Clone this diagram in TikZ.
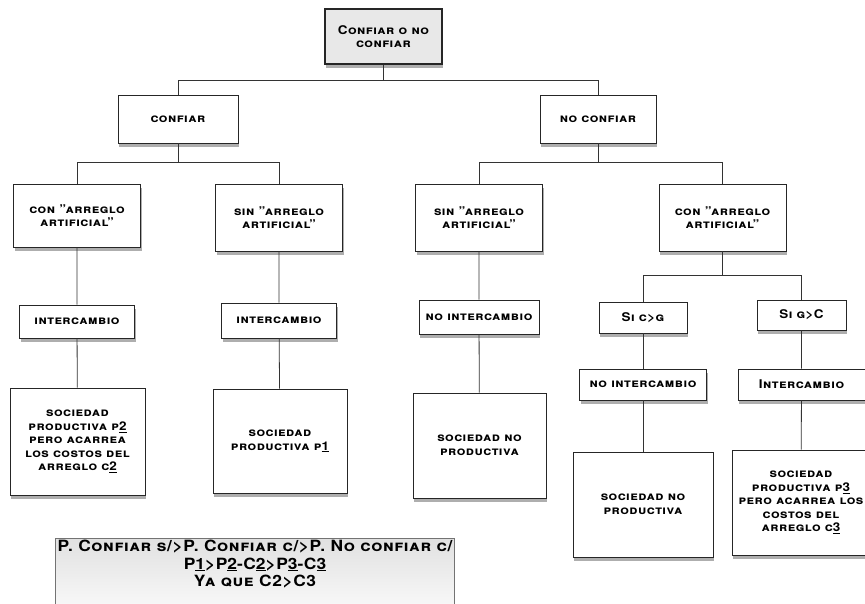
\documentclass[tikz,border=0pt]{standalone}
\usepackage{fontspec}
\setmainfont{TeX Gyre Heros}[FakeStretch=1.12,LetterSpace=4]
\usetikzlibrary{shadows}

\tikzset{
	caja/.style={draw=black!85, line width=0.9pt, fill=white, align=center,
		inner sep=2pt, font=\bfseries\scshape\fontsize{12}{13.5}\selectfont,
		drop shadow={shadow xshift=1pt, shadow yshift=-4pt, opacity=0.45, fill=black!70}},
	enlace/.style={draw=black!80, line width=0.8pt},
}

\begin{document}
\begin{tikzpicture}[x=1pt, y=-1pt]
		%%%%% START %%%%%
		\useasboundingbox (0,0) rectangle (865,603);
		
		% raiz
		\node[caja, fill=black!9, line width=1.8pt, minimum width=117pt, minimum height=55pt] (raiz) at (383.5,36.5) {Confiar o no\\confiar};
		
		\node[caja, minimum width=120pt, minimum height=48pt] (confiar) at (178,119) {confiar};
		\node[caja, minimum width=116pt, minimum height=48pt] (noconfiar) at (598,119) {no confiar};
		
		% segundo nivel
		\node[caja, minimum width=127pt, minimum height=63pt] (conA) at (77,215.5) {con "arreglo\\artificial"};
		\node[caja, minimum width=127pt, minimum height=67pt] (sinA) at (279,217.5) {sin "arreglo\\artificial"};
		\node[caja, minimum width=127pt, minimum height=67pt] (sinB) at (479,217.5) {sin "arreglo\\artificial"};
		\node[caja, minimum width=127pt, minimum height=67pt] (conB) at (722.5,217.5) {con "arreglo\\artificial"};
		
		% intercambios
		\node[caja, minimum width=115pt, minimum height=33pt] (intA) at (77,321.5) {intercambio};
		\node[caja, minimum width=115pt, minimum height=35pt] (intB) at (279,320.5) {intercambio};
		\node[caja, minimum width=120pt, minimum height=34pt] (nointA) at (479,317) {no intercambio};
		\node[caja, minimum width=88pt, minimum height=31pt] (sicg) at (643,317.5) {Si c>g};
		\node[caja, minimum width=89pt, minimum height=30pt] (sigc) at (801.5,315) {Si g>C};
		\node[caja, minimum width=127pt, minimum height=31pt] (nointB) at (643,384.5) {no intercambio};
		\node[caja, minimum width=127pt, minimum height=31pt] (intC) at (801.5,384.5) {Intercambio};
		
		% sociedades
		\node[caja, minimum width=135pt, minimum height=107pt] (socPdos) at (77.5,441.5) {sociedad\\productiva p\underline{2}\\pero acarrea\\los costos del\\arreglo c\underline{2}};
		\node[caja, minimum width=134pt, minimum height=104pt] (socPuno) at (280,441) {sociedad\\productiva p\underline{1}};
		\node[caja, minimum width=133pt, minimum height=105pt] (socnoA) at (479.5,445.5) {sociedad no\\productiva};
		\node[caja, minimum width=140pt, minimum height=105pt] (socnoB) at (643,504.5) {sociedad no\\productiva};
		\node[caja, minimum width=138pt, minimum height=105pt] (socPtres) at (801,502.5) {sociedad\\productiva p\underline{3}\\pero acarrea los\\costos del\\arreglo c\underline{3}};
		
		% nota
		\node[caja, draw=black!55, line width=0.8pt, drop shadow={opacity=0}, top color=black!12, bottom color=black!2,
			minimum width=398pt, minimum height=66pt, font=\bfseries\scshape\fontsize{15.5}{17.5}\selectfont] (nota) at (255,575)
			{P. Confiar s/>P. Confiar c/>P. No confiar c/\\P\underline{1}>P\underline{2}-C\underline{2}>P\underline{3}-C\underline{3}\\Ya que C2>C3\\[6pt]};
		
		% enlaces
		\begin{scope}[enlace]
			\draw (raiz.south) -- (raiz.south |- 0,80);
			\draw (confiar.north) -- (confiar.north |- 0,80) -| (noconfiar.north);
			\draw (confiar.south) -- (confiar.south |- 0,162);
			\draw (conA.north) -- (conA.north |- 0,162) -| (sinA.north);
			\draw (noconfiar.south) -- (noconfiar.south |- 0,162);
			\draw (sinB.north) -- (sinB.north |- 0,162) -| (conB.north);
			\draw (conA) -- (intA) -- (socPdos);
			\draw (sinA) -- (intB) -- (socPuno);
			\draw (sinB) -- (nointA) -- (socnoA);
			\draw (conB.south) -- (conB.south |- 0,275);
			\draw (sicg.north) -- (sicg.north |- 0,275) -| (sigc.north);
			\draw (sicg) -- (nointB) -- (socnoB);
			\draw (sigc) -- (intC) -- (socPtres);
		\end{scope}
		
		%%%%% END %%%%%
\end{tikzpicture}
\end{document}
